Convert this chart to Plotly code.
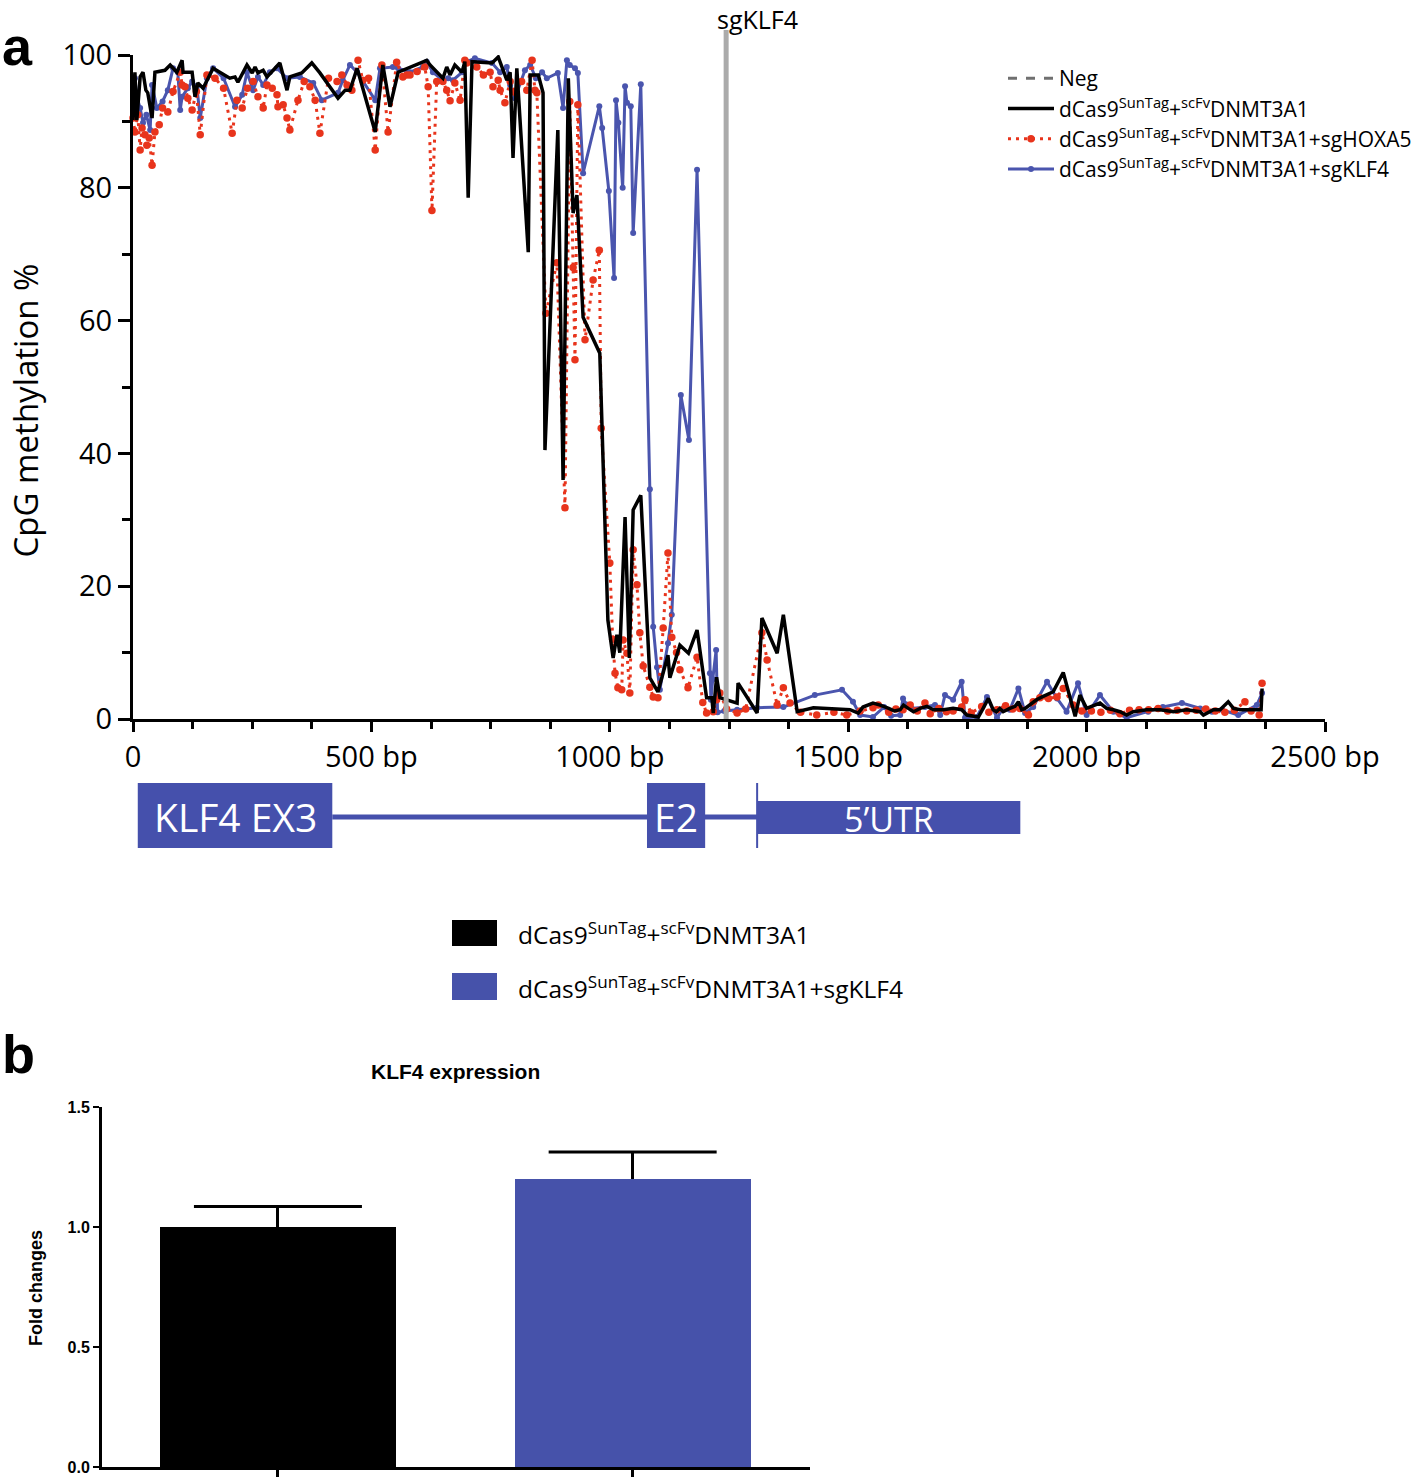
import plotly.graph_objects as go

W, H = 1418, 1477
def px(x): return x / W
def py(y): return 1 - y / H

# ---------------- data: panel a (CpG methylation %) ----------------
black_bp = [0,4,8,15,21,27,31,40,46,67,78,92,103,105,124,130,136,147,168,203,214,220,239,250,256,262,273,281,294,308,323,329,354,375,392,430,445,455,470,508,524,539,556,581,616,623,650,658,665,675,690,696,703,711,753,766,777,784,791,797,805,829,833,843,850,860,864,891,902,913,923,931,944,979,996,1007,1015,1021,1032,1041,1049,1065,1084,1101,1122,1126,1147,1165,1183,1203,1214,1217,1224,1231,1267,1269,1309,1319,1351,1364,1393,1427,1504,1521,1531,1552,1567,1585,1597,1609,1616,1626,1637,1651,1665,1679,1700,1720,1738,1749,1773,1783,1794,1804,1811,1818,1825,1839,1850,1857,1864,1871,1885,1895,1909,1930,1951,1976,1986,2000,2028,2042,2056,2070,2084,2098,2126,2154,2182,2210,2238,2245,2266,2280,2297,2308,2322,2336,2357,2366,2368]
black_val = [90.2,97.4,90.2,96.7,97.4,94.7,94.3,90.5,97.4,97.7,98.5,97.4,99.2,97.4,97.4,93.7,95.8,95.0,98.0,96.5,96.7,95.9,98.5,97.3,98.2,97.3,97.7,96.7,97.7,98.8,94.7,96.7,97.3,98.8,97.3,93.5,94.7,94.7,98.0,88.4,98.5,92.2,97.4,98.2,99.2,98.5,96.5,98.2,97.0,98.5,97.4,99.0,78.5,99.0,98.8,99.7,97.4,96.2,97.4,84.5,98.0,70.3,97.0,97.0,97.0,94.3,40.5,88.7,36.0,96.5,76.2,78.9,60.5,55.1,14.9,9.2,12.7,10.0,30.4,9.2,31.5,33.7,6.2,4.1,9.6,6.2,11.1,9.9,13.4,3.2,3.2,0.9,6.3,3.2,2.4,5.4,0.9,15.2,9.9,15.7,1.1,1.7,1.4,0.9,1.8,2.4,2.1,1.6,1.2,1.4,2.1,1.6,1.1,1.6,1.9,1.4,1.4,1.6,1.4,0.6,0.3,1.6,3.1,1.4,1.1,1.6,1.1,1.6,1.9,2.6,1.4,1.6,2.4,2.9,3.4,4.1,7.0,0.4,3.6,1.6,2.4,1.6,1.4,1.1,0.6,1.1,1.4,1.4,1.1,1.4,1.1,0.6,1.4,1.4,2.6,1.6,1.4,1.4,1.4,1.4,4.6]

red_bp = [0,4,10,15,19,25,29,34,40,46,55,62,73,84,99,103,109,115,124,133,141,155,172,190,208,218,229,240,252,262,273,281,292,302,304,315,323,329,346,359,371,382,392,410,428,438,449,459,472,482,494,508,522,535,553,566,574,581,596,612,619,627,637,650,658,665,675,686,696,700,721,735,749,755,766,770,780,791,801,815,826,837,843,847,866,889,906,916,923,927,933,948,965,978,982,1000,1006,1011,1017,1025,1028,1036,1042,1049,1057,1063,1070,1084,1091,1101,1112,1122,1130,1140,1147,1164,1183,1195,1203,1217,1224,1231,1245,1267,1285,1319,1330,1351,1364,1378,1400,1434,1470,1497,1525,1552,1563,1585,1600,1615,1630,1645,1661,1672,1690,1706,1720,1738,1745,1758,1780,1795,1812,1830,1845,1860,1878,1888,1902,1920,1938,1951,1972,1990,2010,2030,2050,2070,2090,2110,2130,2150,2170,2190,2210,2230,2250,2270,2290,2310,2332,2345,2362,2368]
red_val = [90.5,88.4,91.0,85.7,89.0,88.0,86.4,87.5,83.4,88.4,89.5,92.0,91.4,94.5,97.4,95.5,95.2,93.5,91.7,94.5,88.0,97.0,96.5,95.0,88.2,93.2,92.0,95.0,96.0,93.7,92.0,95.5,95.0,94.0,92.2,92.5,90.5,88.7,93.2,96.0,95.2,93.2,88.2,96.5,96.0,97.0,95.5,94.7,99.2,96.2,96.5,85.7,98.5,88.4,98.9,96.7,97.0,97.0,97.5,98.2,95.2,76.6,96.0,96.0,94.7,93.1,95.8,93.2,99.2,98.8,98.2,97.0,97.4,95.2,96.2,94.7,92.8,96.0,94.4,96.0,94.7,99.2,94.7,94.3,61.1,68.7,31.8,93.0,68.0,54.1,92.5,57.1,66.1,70.6,43.8,23.5,12.0,6.9,4.7,4.4,11.9,9.9,3.9,25.5,20.2,13.0,8.0,4.8,3.3,3.2,13.7,25.0,12.3,10.0,7.4,4.7,9.3,2.5,0.9,1.1,2.9,3.9,1.5,0.9,1.5,13.0,8.9,2.1,4.7,2.4,1.0,0.6,1.0,0.6,1.2,1.7,2.1,1.0,1.5,1.4,2.1,1.2,2.4,0.8,1.6,1.1,1.2,1.8,2.9,0.9,1.9,1.0,1.4,2.0,1.5,1.6,0.6,2.6,3.2,3.1,3.3,4.6,2.1,1.2,1.2,1.0,1.3,0.8,1.3,1.4,1.4,1.6,1.2,1.3,1.2,1.3,1.5,1.2,1.0,1.3,2.6,1.2,0.6,5.4]

blue_bp = [0,4,8,15,21,28,36,40,50,62,73,84,94,99,103,115,124,134,141,155,168,190,214,229,239,252,262,273,287,302,323,350,378,396,430,440,455,470,508,518,545,556,581,608,616,629,650,661,671,690,700,717,753,770,784,791,801,822,833,845,858,868,891,902,910,916,927,933,944,978,984,998,1009,1013,1018,1027,1032,1036,1044,1049,1065,1084,1091,1099,1105,1122,1130,1149,1166,1183,1210,1212,1216,1223,1226,1240,1267,1309,1364,1430,1487,1510,1525,1552,1575,1590,1609,1615,1622,1633,1661,1682,1693,1703,1720,1738,1745,1770,1791,1812,1825,1839,1857,1871,1888,1917,1938,1958,1982,2000,2028,2056,2084,2129,2160,2200,2238,2263,2284,2318,2357,2368]
blue_val = [96.7,96.5,93.7,92.0,89.8,91.0,88.7,95.5,92.0,93.0,94.7,98.0,97.4,91.7,93.7,95.0,96.0,95.2,90.5,96.5,98.0,96.5,92.2,94.0,97.4,94.7,96.7,95.5,97.4,98.0,96.5,96.7,95.8,93.2,94.3,96.2,98.5,97.4,93.2,98.0,98.2,98.0,97.4,98.2,99.0,97.4,96.2,96.5,96.2,97.4,99.0,99.5,98.8,97.4,98.2,95.5,93.5,97.7,98.5,96.5,97.4,96.5,97.3,92.0,99.2,98.5,98.0,97.3,82.2,92.3,89.0,79.5,66.4,93.2,89.8,80.0,95.3,92.8,92.3,73.2,95.6,34.6,13.9,7.8,4.4,11.4,15.7,48.8,42.0,82.7,6.9,2.9,6.0,10.4,1.0,1.2,1.4,1.7,1.8,3.6,4.4,2.6,0.6,0.3,1.8,0.5,0.6,3.1,2.2,1.6,1.8,2.1,0.6,3.6,2.9,5.6,0.2,0.3,3.3,0.2,1.6,1.4,4.6,0.9,1.8,5.6,3.1,1.1,5.4,0.6,3.6,1.1,0.2,1.1,1.8,2.4,1.6,1.1,1.4,0.6,2.1,3.9]

series_names = ["Neg",
                "dCas9<sup>SunTag</sup>+<sup>scFv</sup>DNMT3A1",
                "dCas9<sup>SunTag</sup>+<sup>scFv</sup>DNMT3A1+sgHOXA5",
                "dCas9<sup>SunTag</sup>+<sup>scFv</sup>DNMT3A1+sgKLF4"]
sg_klf4_bp = 1244

x_tick_vals = [0, 500, 1000, 1500, 2000, 2500]
x_tick_text = ["0", "500 bp", "1000 bp", "1500 bp", "2000 bp", "2500 bp"]
y_tick_vals = [0, 20, 40, 60, 80, 100]

# gene structure (bp)
gene_labels = ["KLF4 EX3", "E2", "5\u2019UTR"]
gene_start = [10, 1078, 1309]
gene_end = [418, 1200, 1861]
intron_start, intron_end = 418, 1309
tss_bp = 1309

# ---------------- data: panel b (KLF4 expression) ----------------
bar_groups = ["dCas9<sup>SunTag</sup>+<sup>scFv</sup>DNMT3A1",
              "dCas9<sup>SunTag</sup>+<sup>scFv</sup>DNMT3A1+sgKLF4"]
bar_vals = [1.0, 1.2]
bar_err = [0.085, 0.113]

BLACK = "#000000"
RED = "#E8341C"
BLUE = "#4A55AE"
BARBLUE = "#4652AA"
GENE = "#4550AC"
FONT = "Open Sans"
ARIAL = "Liberation Sans"

fig = go.Figure()

fig.add_trace(go.Scatter(x=[None], y=[None], mode="lines", name=series_names[0],
                         line=dict(color="#707070", width=3, dash="dash"), legendrank=1,
                         legendgroup="neg"))
fig.add_trace(go.Scatter(x=blue_bp, y=blue_val, mode="lines+markers", name=series_names[3],
                         line=dict(color=BLUE, width=3), marker=dict(color=BLUE, size=6),
                         cliponaxis=False, legendrank=4, legendgroup="klf4"))
fig.add_trace(go.Scatter(x=red_bp, y=red_val, mode="lines+markers", name=series_names[2],
                         line=dict(color=RED, width=3, dash="3px,5px"), marker=dict(color=RED, size=7.5),
                         cliponaxis=False, legendrank=3, legendgroup="hoxa5"))
fig.add_trace(go.Scatter(x=black_bp, y=black_val, mode="lines", name=series_names[1],
                         line=dict(color=BLACK, width=3.5), cliponaxis=False, legendrank=2,
                         legendgroup="base"))

bar_pos = list(range(len(bar_vals)))
fig.add_trace(go.Bar(x=bar_pos, y=bar_vals, width=0.665,
                     marker=dict(color=[BLACK, BARBLUE], line=dict(width=0)),
                     error_y=dict(type="data", array=bar_err, arrayminus=[0, 0], symmetric=False,
                                  thickness=3, width=0, color="black"),
                     xaxis="x2", yaxis="y2", showlegend=False,
                     hovertext=bar_groups))
# error-bar caps (top only)
fig.add_trace(go.Scatter(x=bar_pos, y=[v + e for v, e in zip(bar_vals, bar_err)], mode="markers",
                         marker=dict(symbol="line-ew", size=120, color="black",
                                     line=dict(width=3, color="black")),
                         xaxis="x2", yaxis="y2", showlegend=False, cliponaxis=False,
                         hoverinfo="skip"))

axis_common = dict(showgrid=False, zeroline=False, showline=True, linecolor="black",
                   ticks="outside", tickcolor="black")

fig.update_layout(
    width=W, height=H, margin=dict(l=0, r=0, t=0, b=0, autoexpand=False),
    paper_bgcolor="white", plot_bgcolor="white",
    font=dict(family=FONT, color="black"),
    xaxis=dict(domain=[px(133), px(1325)], range=[0, 2500], anchor="y", linewidth=3,
               tickvals=x_tick_vals, ticktext=x_tick_text, ticklen=10, tickwidth=3,
               tickfont=dict(family=FONT, size=29), automargin=False,
               minor=dict(dtick=125, tick0=0, ticklen=7, tickwidth=3, tickcolor="black", ticks="outside", showgrid=False),
               **axis_common),
    yaxis=dict(domain=[py(719), py(55)], range=[0, 100], anchor="x", linewidth=3,
               tickvals=y_tick_vals, ticklen=12, tickwidth=3,
               tickfont=dict(family=FONT, size=29), automargin=False,
               minor=dict(dtick=10, tick0=0, ticklen=8, tickwidth=3, tickcolor="black", ticks="outside", showgrid=False),
               **axis_common),
    xaxis2=dict(domain=[px(102), px(810)], range=[-0.496, 1.5], anchor="y2", linewidth=3,
                tickvals=[0, 1], ticktext=["", ""], ticklen=10, tickwidth=2.5, showticklabels=False,
                automargin=False, **axis_common),
    yaxis2=dict(domain=[py(1467), py(1107)], range=[0, 1.5], anchor="x2", linewidth=3,
                tickvals=[0, 0.5, 1.0, 1.5], ticktext=["0.0", "0.5", "1.0", "1.5"],
                ticklen=6, tickwidth=2, automargin=False,
                tickfont=dict(family=ARIAL, size=16, weight="bold"),
                **axis_common),
    legend=dict(x=px(1003), y=py(58), xanchor="left", yanchor="top",
                font=dict(family=FONT, size=21, color="black"),
                itemwidth=46, tracegroupgap=1, bgcolor="rgba(0,0,0,0)", borderwidth=0,
                traceorder="normal"),
    showlegend=True,
    bargap=0,
)

shapes = []
# sgKLF4 guide line
shapes.append(dict(type="line", xref="x", yref="paper", x0=sg_klf4_bp, x1=sg_klf4_bp,
                   y0=py(719), y1=py(30), line=dict(color="#ABABAB", width=5), layer="above"))
# gene structure
shapes.append(dict(type="line", xref="x", yref="paper", x0=intron_start, x1=intron_end,
                   y0=py(817), y1=py(817), line=dict(color=GENE, width=5)))
for i, lab in enumerate(gene_labels):
    if lab.startswith("5"):
        y0, y1 = py(834), py(801)
    else:
        y0, y1 = py(848), py(783)
    shapes.append(dict(type="rect", xref="x", yref="paper", x0=gene_start[i], x1=gene_end[i],
                       y0=y0, y1=y1, fillcolor=GENE, line=dict(width=0)))
shapes.append(dict(type="line", xref="x", yref="paper", x0=tss_bp, x1=tss_bp,
                   y0=py(848), y1=py(783), line=dict(color=GENE, width=2)))
# panel b legend swatches
shapes.append(dict(type="rect", xref="paper", yref="paper", x0=px(452), x1=px(497),
                   y0=py(946), y1=py(920), fillcolor=BLACK, line=dict(width=0)))
shapes.append(dict(type="rect", xref="paper", yref="paper", x0=px(452), x1=px(497),
                   y0=py(1000), y1=py(973), fillcolor=BARBLUE, line=dict(width=0)))

annotations = []
annotations.append(dict(text="a", x=px(0), y=py(46), xref="paper", yref="paper", xanchor="left",
                        yanchor="middle", showarrow=False,
                        font=dict(family=ARIAL, size=54, weight="bold", color="black")))
annotations.append(dict(text="b", x=px(0), y=py(1054), xref="paper", yref="paper", xanchor="left",
                        yanchor="middle", showarrow=False,
                        font=dict(family=ARIAL, size=54, weight="bold", color="black")))
annotations.append(dict(text="sgKLF4", x=sg_klf4_bp, xref="x", xanchor="left", xshift=-11,
                        y=py(0), yref="paper", yanchor="top", showarrow=False,
                        font=dict(family=FONT, size=25, color="black")))
annotations.append(dict(text="CpG methylation %", x=px(0), y=py(411), xref="paper", yref="paper",
                        textangle=-90, showarrow=False, xanchor="left", yanchor="middle",
                        font=dict(family=FONT, size=33, color="black")))
for i, lab in enumerate(gene_labels):
    size = 34 if lab.startswith("5") else 39
    yy = py(819) if lab.startswith("5") else py(816)
    annotations.append(dict(text=lab, x=(gene_start[i] + gene_end[i]) / 2, xref="x",
                            y=yy, yref="paper", showarrow=False, xanchor="center", yanchor="middle",
                            font=dict(family=FONT, size=size, color="white")))
annotations.append(dict(text=bar_groups[0], x=px(516), y=py(933), xref="paper", yref="paper",
                        xanchor="left", yanchor="middle", showarrow=False,
                        font=dict(family=FONT, size=24.5, color="black")))
annotations.append(dict(text=bar_groups[1], x=px(516), y=py(987), xref="paper", yref="paper",
                        xanchor="left", yanchor="middle", showarrow=False,
                        font=dict(family=FONT, size=24.5, color="black")))
annotations.append(dict(text="KLF4 expression", x=px(455), y=py(1071), xref="paper", yref="paper",
                        xanchor="center", yanchor="middle", showarrow=False,
                        font=dict(family=ARIAL, size=21, weight="bold", color="black")))
annotations.append(dict(text="Fold changes", x=px(36), y=py(1288), xref="paper", yref="paper",
                        textangle=-90, xanchor="center", yanchor="middle", showarrow=False,
                        font=dict(family=ARIAL, size=18, weight="bold", color="black")))

fig.update_layout(shapes=shapes, annotations=annotations)

fig.write_html("out.html", config={"displayModeBar": False},
               post_script="document.body.style.margin='0';")
